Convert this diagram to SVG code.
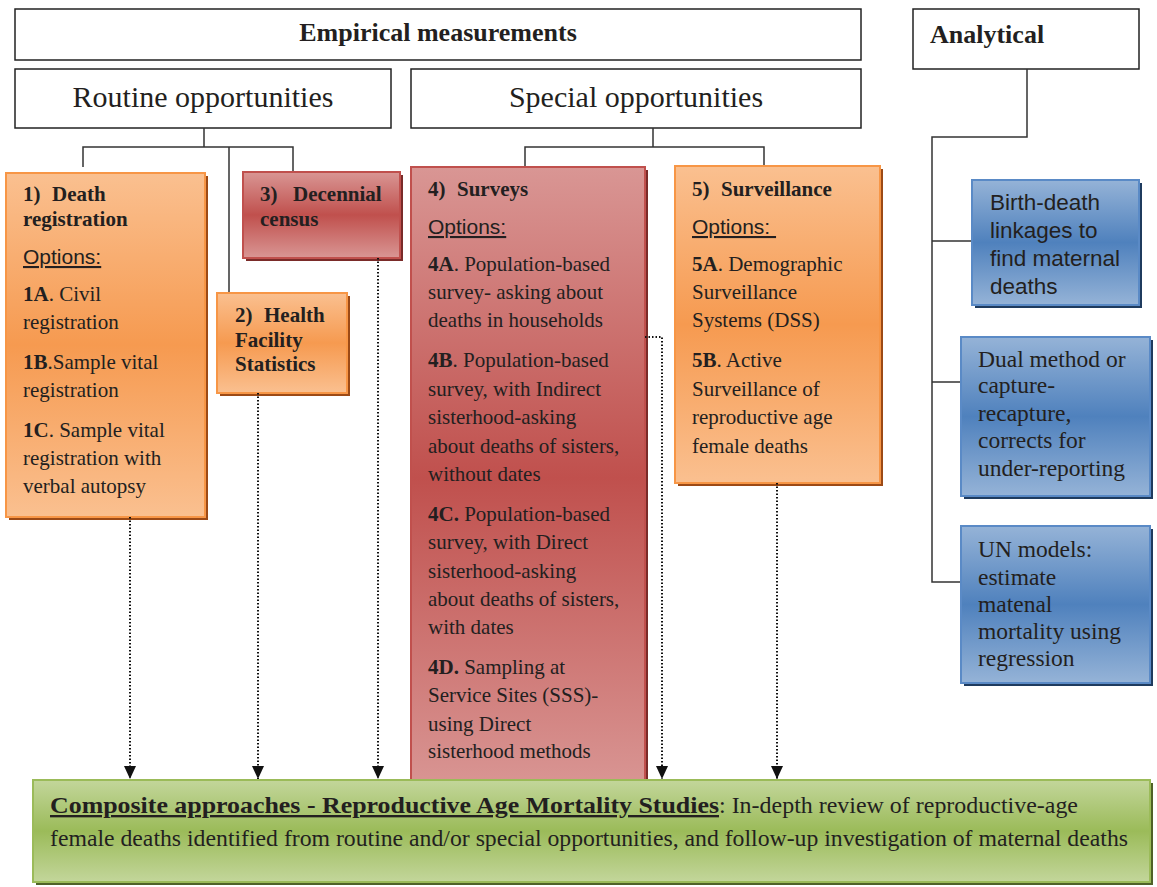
<svg xmlns="http://www.w3.org/2000/svg" width="1157" height="887" viewBox="0 0 1157 887">
  <defs>
    <linearGradient id="gOrange" x1="0" y1="0" x2="0" y2="1">
      <stop offset="0" stop-color="#fac090"/>
      <stop offset="0.5" stop-color="#f69a50"/>
      <stop offset="1" stop-color="#fac090"/>
    </linearGradient>
    <linearGradient id="gRed" x1="0" y1="0" x2="0" y2="1">
      <stop offset="0" stop-color="#d99694"/>
      <stop offset="0.5" stop-color="#c0504d"/>
      <stop offset="1" stop-color="#d99694"/>
    </linearGradient>
    <linearGradient id="gBlue" x1="0" y1="0" x2="0" y2="1">
      <stop offset="0" stop-color="#95b3d7"/>
      <stop offset="0.5" stop-color="#4f81bd"/>
      <stop offset="1" stop-color="#95b3d7"/>
    </linearGradient>
    <linearGradient id="gGreen" x1="0" y1="0" x2="0" y2="1">
      <stop offset="0" stop-color="#c3d69b"/>
      <stop offset="0.5" stop-color="#9bbb59"/>
      <stop offset="1" stop-color="#c3d69b"/>
    </linearGradient>
    <marker id="arrow" viewBox="0 0 13 12" refX="13" refY="6" markerWidth="13" markerHeight="12" markerUnits="userSpaceOnUse" orient="auto">
      <path d="M0,0 L13,6 L0,12 z" fill="#111"/>
    </marker>
  </defs>
  <style>
    .hdr { fill: #fff; stroke: #222; stroke-width: 1.5; }
    .orange { fill: url(#gOrange); stroke: #f79646; stroke-width: 2; }
    .red { fill: url(#gRed); stroke: #c0504d; stroke-width: 2; }
    .blue { fill: url(#gBlue); stroke: #5a8ac6; stroke-width: 2; }
    .green { fill: url(#gGreen); stroke: #9bbb59; stroke-width: 2; }
    .sh-orange { fill: #9c4a16; }
    .sh-red { fill: #7a2b29; }
    .sh-blue { fill: #1f3b5e; }
    .sh-green { fill: #4f6228; }
    text { font-family: "Liberation Serif", "Times New Roman", serif; fill: #231f20; }
    .t { font-size: 21px; }
    .tb { font-size: 21px; font-weight: bold; }
    .tl { font-size: 23.5px; }
    .opt { font-family: "Liberation Sans", Arial, sans-serif; font-size: 21px; text-decoration: underline; }
    .sans { font-family: "Liberation Sans", Arial, sans-serif; font-size: 22.5px; }
    .big { font-size: 30px; }
    .bigb { font-size: 26px; font-weight: bold; }
    .link { fill: none; stroke: #333; stroke-width: 1.5; }
    .dot { fill: none; stroke: #111; stroke-width: 2; stroke-dasharray: 1.5 2; }
  </style>

  <!-- header boxes -->
  <g id="empirical">
    <rect class="hdr" x="15" y="9" width="846" height="51"/>
    <text class="bigb" x="438" y="41" text-anchor="middle">Empirical measurements</text>
  </g>
  <g id="analytical">
    <rect class="hdr" x="913" y="9" width="226" height="60"/>
    <text class="bigb" x="930" y="43">Analytical</text>
  </g>
  <g id="routine">
    <rect class="hdr" x="15" y="69" width="376" height="59"/>
    <text class="big" x="203" y="107" text-anchor="middle">Routine opportunities</text>
  </g>
  <g id="special">
    <rect class="hdr" x="411" y="69" width="450" height="59"/>
    <text class="big" x="636" y="107" text-anchor="middle">Special opportunities</text>
  </g>

  <!-- tree lines -->
  <g id="connectors">
    <path class="link" d="M204,128 V147 M83,167 V147 H293 V172 M229,147 V293"/>
    <path class="link" d="M653,128 V147 M525,167 V147 H764 V166"/>
    <path class="link" d="M1027,69 V137 H932 V582 H961 M932,241 H972 M932,382 H961"/>
  </g>

  <!-- 4) Surveys (runs down under the composite box) -->
  <g id="surveys">
    <rect class="sh-red" x="414" y="170" width="234" height="622"/>
    <rect class="red" x="411" y="167" width="234" height="622"/>
    <text class="tb" x="428" y="196">4)</text>
    <text class="tb" x="457" y="196">Surveys</text>
    <text class="opt" x="428" y="234">Options:</text>
    <text class="t" x="428" y="271"><tspan font-weight="bold">4A</tspan>. Population-based</text>
    <text class="t" x="428" y="299">survey- asking about</text>
    <text class="t" x="428" y="327">deaths in households</text>
    <text class="t" x="428" y="367"><tspan font-weight="bold">4B</tspan>. Population-based</text>
    <text class="t" x="428" y="396">survey, with Indirect</text>
    <text class="t" x="428" y="424">sisterhood-asking</text>
    <text class="t" x="428" y="453">about deaths of sisters,</text>
    <text class="t" x="428" y="481">without dates</text>
    <text class="t" x="428" y="521"><tspan font-weight="bold">4C.</tspan> Population-based</text>
    <text class="t" x="428" y="549">survey, with Direct</text>
    <text class="t" x="428" y="578">sisterhood-asking</text>
    <text class="t" x="428" y="606">about deaths of sisters,</text>
    <text class="t" x="428" y="634">with dates</text>
    <text class="t" x="428" y="674"><tspan font-weight="bold">4D.</tspan> Sampling at</text>
    <text class="t" x="428" y="702">Service Sites (SSS)-</text>
    <text class="t" x="428" y="731">using Direct</text>
    <text class="t" x="428" y="758">sisterhood methods</text>
  </g>

  <!-- 1) Death registration -->
  <g id="death-registration">
    <rect class="sh-orange" x="9" y="176" width="199" height="344"/>
    <rect class="orange" x="6" y="173" width="199" height="344"/>
    <text class="tb" x="23" y="201">1)</text>
    <text class="tb" x="52" y="201">Death</text>
    <text class="tb" x="23" y="226">registration</text>
    <text class="opt" x="23" y="264">Options:</text>
    <text class="t" x="23" y="301"><tspan font-weight="bold">1A</tspan>. Civil</text>
    <text class="t" x="23" y="329">registration</text>
    <text class="t" x="23" y="369"><tspan font-weight="bold">1B</tspan>.Sample vital</text>
    <text class="t" x="23" y="397">registration</text>
    <text class="t" x="23" y="437"><tspan font-weight="bold">1C</tspan>. Sample vital</text>
    <text class="t" x="23" y="465">registration with</text>
    <text class="t" x="23" y="493">verbal autopsy</text>
  </g>

  <!-- 2) Health Facility Statistics -->
  <g id="health-facility">
    <rect class="sh-orange" x="220" y="296" width="130" height="100"/>
    <rect class="orange" x="217" y="293" width="130" height="100"/>
    <text class="tb" x="235" y="322">2)</text>
    <text class="tb" x="264" y="322">Health</text>
    <text class="tb" x="235" y="347">Facility</text>
    <text class="tb" x="235" y="371">Statistics</text>
  </g>

  <!-- 3) Decennial census -->
  <g id="decennial-census">
    <rect class="sh-red" x="246" y="175" width="157" height="86"/>
    <rect class="red" x="243" y="172" width="157" height="86"/>
    <text class="tb" x="260" y="201">3)</text>
    <text class="tb" x="293" y="201">Decennial</text>
    <text class="tb" x="260" y="226">census</text>
  </g>

  <!-- 5) Surveillance -->
  <g id="surveillance">
    <rect class="sh-orange" x="678" y="169" width="205" height="317"/>
    <rect class="orange" x="675" y="166" width="205" height="317"/>
    <text class="tb" x="692" y="196">5)</text>
    <text class="tb" x="721" y="196">Surveillance</text>
    <text class="opt" x="692" y="234" xml:space="preserve">Options: </text>
    <text class="t" x="692" y="271"><tspan font-weight="bold">5A</tspan>. Demographic</text>
    <text class="t" x="692" y="299">Surveillance</text>
    <text class="t" x="692" y="327">Systems (DSS)</text>
    <text class="t" x="692" y="367"><tspan font-weight="bold">5B</tspan>. Active</text>
    <text class="t" x="692" y="396">Surveillance of</text>
    <text class="t" x="692" y="424">reproductive age</text>
    <text class="t" x="692" y="453">female deaths</text>
  </g>

  <!-- analytical methods -->
  <g id="birth-death">
    <rect class="sh-blue" x="975" y="183" width="167" height="125"/>
    <rect class="blue" x="972" y="180" width="167" height="125"/>
    <text class="sans" x="990" y="210">Birth-death</text>
    <text class="sans" x="990" y="238">linkages to</text>
    <text class="sans" x="990" y="266">find maternal</text>
    <text class="sans" x="990" y="294">deaths</text>
  </g>
  <g id="dual-method">
    <rect class="sh-blue" x="964" y="340" width="189" height="159"/>
    <rect class="blue" x="961" y="337" width="189" height="159"/>
    <text class="tl" x="978" y="367">Dual method or</text>
    <text class="tl" x="978" y="393">capture-</text>
    <text class="tl" x="978" y="421">recapture,</text>
    <text class="tl" x="978" y="448">corrects for</text>
    <text class="tl" x="978" y="476">under-reporting</text>
  </g>
  <g id="un-models">
    <rect class="sh-blue" x="964" y="529" width="189" height="157"/>
    <rect class="blue" x="961" y="526" width="189" height="157"/>
    <text class="tl" x="978" y="557">UN models:</text>
    <text class="tl" x="978" y="585">estimate</text>
    <text class="tl" x="978" y="612">matenal</text>
    <text class="tl" x="978" y="639">mortality using</text>
    <text class="tl" x="978" y="666">regression</text>
  </g>

  <!-- dotted feeds into the composite approach -->
  <g id="feeds">
    <path class="dot" d="M130,517 V779" marker-end="url(#arrow)"/>
    <path class="dot" d="M258,393 V779" marker-end="url(#arrow)"/>
    <path class="dot" d="M378,258 V779" marker-end="url(#arrow)"/>
    <path class="dot" d="M645,337 H662 V779" marker-end="url(#arrow)"/>
    <path class="dot" d="M777,483 V779" marker-end="url(#arrow)"/>
  </g>

  <!-- composite approaches -->
  <g id="composite">
    <rect class="sh-green" x="36" y="783" width="1117" height="102"/>
    <rect class="green" x="33" y="780" width="1117" height="102"/>
    <text class="tl" x="50" y="813" font-weight="bold" text-decoration="underline" textLength="669" lengthAdjust="spacingAndGlyphs">Composite approaches - Reproductive Age Mortality Studies</text>
    <text class="tl" x="719" y="813" textLength="359" lengthAdjust="spacingAndGlyphs">: In-depth review of reproductive-age</text>
    <text class="tl" x="50" y="846" textLength="1078" lengthAdjust="spacingAndGlyphs">female deaths identified from routine and/or special opportunities, and follow-up investigation of maternal deaths</text>
  </g>
</svg>
